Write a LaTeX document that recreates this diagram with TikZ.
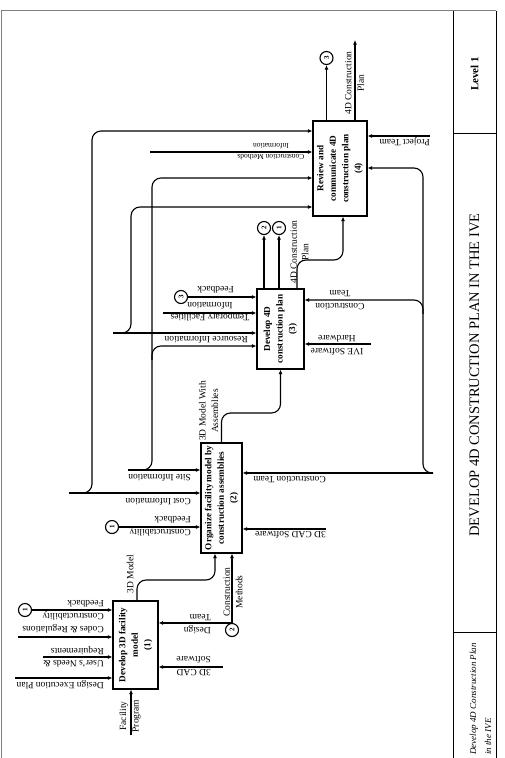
\documentclass[tikz,border=0pt]{standalone}
\usepackage{graphicx}
\usepackage{fontspec}
\setmainfont{Liberation Serif}
\usetikzlibrary{arrows.meta}

\newcommand{\tg}[1]{\rotatebox{90}{#1}}

\tikzset{
	actbox/.style={draw, line width=1.1pt, inner sep=0pt},
	acttext/.style={rotate=90, align=center, inner sep=0pt, font=\fontsize{9.2}{12.5}\selectfont\bfseries},
	lbl/.style={rotate=180, inner sep=0pt, font=\fontsize{9.5}{12.5}\selectfont},
	vlbl/.style={rotate=90, align=center, inner sep=0pt, font=\fontsize{9.5}{12.5}\selectfont},
	tag/.style={circle, draw, line width=1.1pt, minimum size=13pt, inner sep=0pt, font=\fontsize{7}{7}\selectfont\bfseries},
	arr/.style={line width=1.1pt, -{Latex[length=4.5pt,width=4pt]}},
	flow/.style={arr, rounded corners=9pt},
}

\begin{document}
\begin{tikzpicture}[x=1pt, y=-1pt]
	\useasboundingbox (0,0) rectangle (505,758);
	\draw [gray, line width=0.8pt] (1.5,770) -- (1.5,10.5) -- (496,10.5);
	\draw [line width=1pt] (453,10.5) -- (453,770) (496,10.5) -- (496,770);
	\draw [line width=1pt] (453,133) -- (496,133) (453,632) -- (496,632);
	\node [rotate=90, font=\fontsize{11}{11}\selectfont\bfseries] (lvl) at (474.5,74) {Level 1};
	\node [rotate=90, font=\fontsize{14.5}{14.5}\selectfont] (ttl) at (474.5,375) {DEVELOP 4D CONSTRUCTION PLAN IN THE IVE};
	\node [rotate=90, anchor=west, inner sep=0pt, font=\fontsize{9}{9}\selectfont\itshape] (nm1) at (474,755) {Develop 4D Construction Plan};
	\node [rotate=90, anchor=west, inner sep=0pt, font=\fontsize{9}{9}\selectfont\itshape] (nm2) at (488,755) {in the IVE};

	\node [actbox, minimum width=45pt, minimum height=88pt] (b1) at (135.5,645) {};
	\node [acttext] (b1t) at (b1) {Develop 3D facility\\model\\(1)};
	\node [actbox, minimum width=41pt, minimum height=110pt] (b2) at (221.5,498) {};
	\node [acttext] (b2t) at (b2) {Organize facility model by\\construction assemblies\\(2)};
	\node [actbox, minimum width=47pt, minimum height=80pt] (b3) at (280.5,329) {};
	\node [acttext] (b3t) at (b3) {Develop 4D\\construction plan\\(3)};
	\node [actbox, minimum width=54pt, minimum height=95pt] (b4) at (340,168.5) {};
	\node [acttext] (b4t) at (b4) {Review and\\communicate 4D\\construction plan\\(4)};

	\node [tag] (t1a) at (25,610) {\tg{1}};
	\node [tag] (t2a) at (232,630) {\tg{2}};
	\node [tag] (t1b) at (112,527) {\tg{1}};
	\node [tag] (t3a) at (181,297) {\tg{3}};
	\node [tag] (t2b) at (264,228) {\tg{2}};
	\node [tag] (t1c) at (279,228) {\tg{1}};
	\node [tag] (t3b) at (326.5,58) {\tg{3}};

	\coordinate (codes) at (18,637);
	\coordinate (needs) at (43,657);
	\coordinate (dep) at (15,678);
	\coordinate (cadA) at (223,667);
	\coordinate (prog) at (131,735);
	\coordinate (site) at (128,470);
	\coordinate (cost) at (69,493);
	\coordinate (cteam) at (433,473);
	\coordinate (cadB) at (326,529);
	\coordinate (temp) at (163,313);
	\coordinate (res) at (113,333);
	\coordinate (ive) at (371,344);
	\coordinate (cmi) at (150,152);
	\coordinate (pteam) at (430,136);
	\coordinate (plan) at (355,40);

	\draw [arr] (t1a) -- (t1a -| b1.west);
	\draw [arr] (codes) -- (codes -| b1.west);
	\draw [arr] (needs) -- (needs -| b1.west);
	\draw [arr] (dep) -- (dep -| b1.west);
	\draw [arr] (t2a.north) -- (t2a.north -| b1.east);
	\draw [arr] (cadA) -- (cadA -| b1.east);
	\draw [arr] (prog) -- (prog |- b1.south);
	\draw [flow] (b1.north -| 137,0) |- (215,580) -- (b2.south -| 215,0);

	\draw [arr] (site) -- (site -| b2.west);
	\draw [flow] (140,470) -| (152,178) -- (b4.west |- 0,178);
	\draw [flow] (152,360) |- (b3.west |- 0,346);
	\draw [arr] (cost) -- (cost -| b2.west);
	\draw [flow] (80,493) -| (92,131) -- (b4.west |- 0,131);
	\draw [arr] (t1b) -- (t1b -| b2.west);
	\draw [arr] (cteam) -- (cteam -| b2.east);
	\draw [flow] (cteam) -| (423,168) -- (b4.east |- 0,168);
	\draw [flow] (423,314) |- (b3.east |- 0,300);
	\draw [arr] (cadB) -- (cadB -| b2.east);
	\draw [arr] (t2a) -- (t2a |- b2.south);
	\draw [flow] (b2.north) |- (b3.south |- 0,413) -- (b3.south);

	\draw [arr] (t3a) -- (t3a -| b3.west);
	\draw [arr] (temp) -- (temp -| b3.west);
	\draw [arr] (res) -- (res -| b3.west);
	\draw [flow] (123,333) -| (131,207) -- (b4.west |- 0,207);
	\draw [arr] (ive) -- (ive -| b3.east);
	\draw [arr] (b3.north -| t2b) -- (t2b);
	\draw [arr] (b3.north -| t1c) -- (t1c);
	\draw [flow] (b3.north -| 297,0) |- (343,260) -- (b4.south -| 343,0);

	\draw [arr] (cmi) -- (cmi -| b4.west);
	\draw [arr] (pteam) -- (pteam -| b4.east);
	\draw [arr] (b4.north -| t3b) -- (t3b);
	\draw [arr] (b4.north -| plan) -- (plan);

	\node [lbl, anchor=west, align=left] (l1) at (104,610) {Constructability\\Feedback};
	\node [lbl, anchor=west] (l2) at (104,629) {Codes \& Regulations};
	\node [lbl, anchor=west, align=left] (l3) at (104,657) {User's Needs \&\\Requirements};
	\node [lbl, anchor=west] (l4) at (104,685) {Design Execution Plan};
	\node [lbl, anchor=west, align=left] (l5) at (211,624) {Design\\Team};
	\node [lbl, anchor=west, align=left] (l6) at (211,666) {3D CAD\\Software};
	\node [vlbl] (l7) at (130,716) {Facility\\Program};
	\node [vlbl] (l8) at (130,574) {3D Model};

	\node [lbl, anchor=west] (l9) at (191,478) {Site Information};
	\node [lbl, anchor=west] (l10) at (191,502) {Cost Information};
	\node [lbl, anchor=west, align=left] (l11) at (191,526) {Constructability\\Feedback};
	\node [lbl, anchor=west] (l12) at (326,480) {Construction Team};
	\node [lbl, anchor=west] (l13) at (326,535) {3D CAD Software};
	\node [vlbl] (l14) at (233,592) {Construction\\Methods};
	\node [vlbl] (l15) at (208.5,411) {3D Model With\\Assemblies};

	\node [lbl, anchor=west] (l16) at (234,290) {Feedback};
	\node [lbl, align=center] (l17) at (210,311.5) {Temporary Facilities\\Information};
	\node [lbl, anchor=west] (l18) at (248,340) {Resource Information};
	\node [lbl, align=center] (l19) at (340,300) {Construction\\Team};
	\node [lbl, align=center] (l20) at (337,345.5) {IVE Software\\Hardware};
	\node [vlbl, font=\fontsize{9.5}{11.5}\selectfont] (l21) at (299.5,252) {4D Construction\\Plan};

	\node [lbl, align=center, font=\fontsize{7.5}{11}\selectfont] (l22) at (271,152) {Construction Methods\\Information};
	\node [lbl, anchor=west] (l23) at (430,142) {Project Team};
	\node [vlbl] (l24) at (354.5,83) {4D Construction\\Plan};
\end{tikzpicture}
\end{document}
